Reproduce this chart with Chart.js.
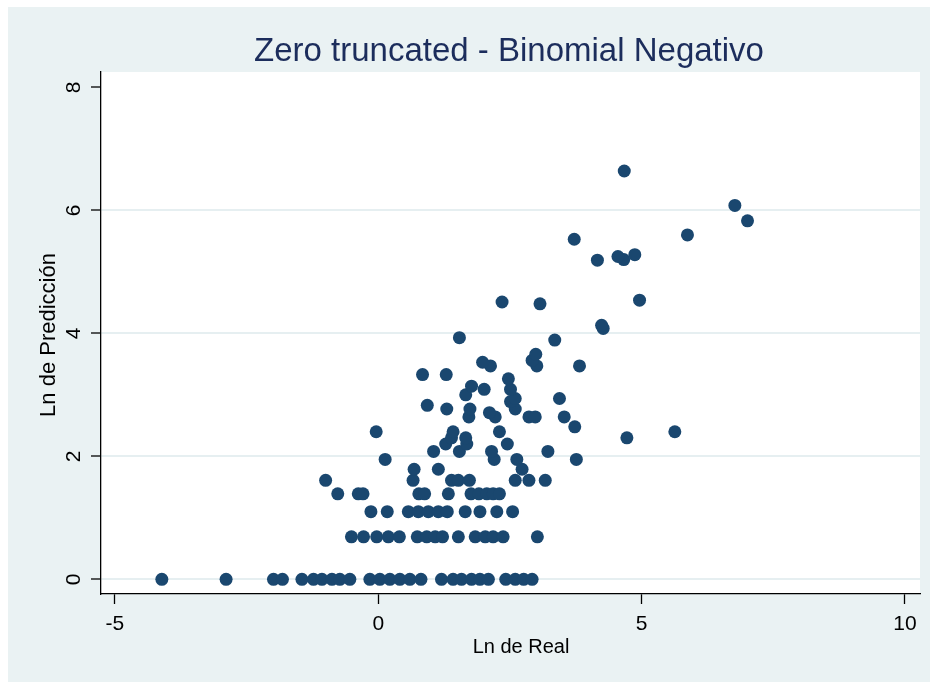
<!DOCTYPE html>
<html>
<head>
<meta charset="utf-8">
<script src="https://cdn.jsdelivr.net/npm/chart.js@4"></script>
<style>
  html, body { margin: 0; padding: 0; background: #fff; }
  canvas { display: block; }
</style>
</head>
<body>
<canvas id="scatter" width="930" height="682"></canvas>
<script>
const chartTitle = 'Zero truncated - Binomial Negativo';
const xTitle = 'Ln de Real';
const yTitle = 'Ln de Predicción';
const xTicks = [-5, 0, 5, 10];
const yTicks = [0, 2, 4, 6, 8];

// x: Ln de Real, y: Ln de Predicción (same order, one line per predicted level)
const realLn = [
  -4.11, -2.89, -1.99, -1.82, -1.45, -1.23, -1.07, -0.88, -0.73, -0.54, -0.16, 0.03, 0.22,
  0.41, 0.60, 0.81, 1.20, 1.42, 1.58, 1.77, 1.93, 2.09, 2.42, 2.60, 2.76, 2.92,
  -0.51, -0.28, -0.03, 0.19, 0.40, 0.74, 0.92, 1.08, 1.22, 1.52, 1.84, 2.03, 2.18, 2.37, 3.02,
  -0.14, 0.17, 0.57, 0.76, 0.95, 1.14, 1.31, 1.65, 1.93, 2.25, 2.55,
  -0.77, -0.38, -0.29, 0.77, 0.88, 1.33, 1.76, 1.91, 2.06, 2.18, 2.30,
  -1.00, 0.66, 1.39, 1.52, 1.73, 2.60, 2.86, 3.17,
  0.68, 1.14, 2.73,
  0.13, 2.20, 2.63, 3.76,
  1.05, 1.54, 2.15, 3.22,
  1.28, 1.68, 2.45,
  1.39, 1.66, 4.72,
  -0.04, 1.42, 2.30, 5.63,
  3.73,
  1.72, 2.22, 2.86, 2.98, 3.53,
  2.11,
  1.30, 1.74, 2.60,
  0.93,
  2.51,
  2.60, 3.44,
  1.66,
  2.01, 2.51,
  1.77,
  2.47,
  0.84, 1.29,
  2.13, 3.01, 3.82,
  1.98,
  2.92,
  2.99,
  3.35,
  1.54,
  4.27,
  4.24,
  3.07,
  2.35,
  4.96,
  4.16, 4.66, 4.55, 4.87,
  3.72, 5.87, 7.01, 6.77, 4.67
];
const predLn = [
  0, 0, 0, 0, 0, 0, 0, 0, 0, 0, 0, 0, 0,
  0, 0, 0, 0, 0, 0, 0, 0, 0, 0, 0, 0, 0,
  0.69, 0.69, 0.69, 0.69, 0.69, 0.69, 0.69, 0.69, 0.69, 0.69, 0.69, 0.69, 0.69, 0.69, 0.69,
  1.10, 1.10, 1.10, 1.10, 1.10, 1.10, 1.10, 1.10, 1.10, 1.10, 1.10,
  1.39, 1.39, 1.39, 1.39, 1.39, 1.39, 1.39, 1.39, 1.39, 1.39, 1.39,
  1.61, 1.61, 1.61, 1.61, 1.61, 1.61, 1.61, 1.61,
  1.79, 1.79, 1.79,
  1.95, 1.95, 1.95, 1.95,
  2.08, 2.08, 2.08, 2.08,
  2.20, 2.20, 2.20,
  2.30, 2.30, 2.30,
  2.40, 2.40, 2.40, 2.40,
  2.48,
  2.64, 2.64, 2.64, 2.64, 2.64,
  2.71,
  2.77, 2.77, 2.77,
  2.83,
  2.89,
  2.94, 2.94,
  3.00,
  3.09, 3.09,
  3.14,
  3.26,
  3.33, 3.33,
  3.47, 3.47, 3.47,
  3.53,
  3.56,
  3.66,
  3.89,
  3.93,
  4.08,
  4.13,
  4.48,
  4.51,
  4.54,
  5.19, 5.20, 5.25, 5.28,
  5.53, 5.60, 5.83, 6.08, 6.64
];

const FONT = '"Liberation Sans", Arial, Helvetica, sans-serif';
const NAVY = '#1a476f';

// Stata-like frame, title and rotated y labels
const stataFrame = {
  id: 'stataFrame',
  beforeDraw(chart) {
    const { ctx, chartArea: a, width, height } = chart;
    ctx.save();
    ctx.fillStyle = '#ffffff';
    ctx.fillRect(0, 0, width, height);
    ctx.fillStyle = '#eaf2f3';
    ctx.fillRect(8, 7, width - 8, height - 7);
    ctx.fillStyle = '#ffffff';
    ctx.fillRect(a.left, a.top, a.right - a.left, a.bottom - a.top);
    ctx.restore();
  },
  afterDraw(chart) {
    const { ctx, chartArea: a, scales } = chart;
    ctx.save();
    ctx.textAlign = 'center';
    ctx.textBaseline = 'alphabetic';

    ctx.fillStyle = '#1c2d5c';
    ctx.font = '33px ' + FONT;
    ctx.fillText(chartTitle, 509, 61);

    ctx.fillStyle = '#000';
    ctx.font = '21px ' + FONT;
    xTicks.forEach(v => ctx.fillText(String(v), scales.x.getPixelForValue(v), 630));
    yTicks.forEach(v => {
      ctx.save();
      ctx.translate(80, scales.y.getPixelForValue(v));
      ctx.rotate(-Math.PI / 2);
      ctx.fillText(String(v), 0, 0);
      ctx.restore();
    });

    ctx.font = '20px ' + FONT;
    ctx.fillText(xTitle, 521, 653);
    ctx.font = '22px ' + FONT;
    ctx.save();
    ctx.translate(55, 335);
    ctx.rotate(-Math.PI / 2);
    ctx.fillText(yTitle, 0, 0);
    ctx.restore();
    ctx.restore();
  }
};

new Chart(document.getElementById('scatter'), {
  type: 'scatter',
  data: {
    datasets: [{
      label: yTitle,
      data: realLn.map((x, i) => ({ x: x, y: predLn[i] })),
      backgroundColor: NAVY,
      borderWidth: 0,
      pointRadius: 6.5,
      pointHoverRadius: 6.5
    }]
  },
  options: {
    responsive: false,
    animation: false,
    layout: { padding: { top: 72, right: 10, left: 0, bottom: 0 } },
    plugins: {
      legend: { display: false },
      tooltip: { enabled: false }
    },
    scales: {
      x: {
        type: 'linear',
        min: -5.265,
        max: 10.285,
        afterBuildTicks: s => { s.ticks = xTicks.map(v => ({ value: v })); },
        afterFit: s => { s.height = 88; },
        ticks: { display: false },
        grid: { drawOnChartArea: false, tickLength: 10, tickColor: '#000', tickWidth: 1.3 },
        border: { display: true, color: '#000', width: 1.3 }
      },
      y: {
        type: 'linear',
        min: -0.239,
        max: 8.25,
        afterBuildTicks: s => { s.ticks = yTicks.map(v => ({ value: v })); },
        afterFit: s => { s.width = 101; },
        ticks: { display: false },
        grid: {
          color: c => (c.tick && c.tick.value === 8 ? 'rgba(0,0,0,0)' : '#e6eff1'),
          lineWidth: 2,
          tickLength: 10,
          tickColor: '#000',
          tickWidth: 1.3
        },
        border: { display: true, color: '#000', width: 1.3 }
      }
    }
  },
  plugins: [stataFrame]
});
</script>
</body>
</html>
